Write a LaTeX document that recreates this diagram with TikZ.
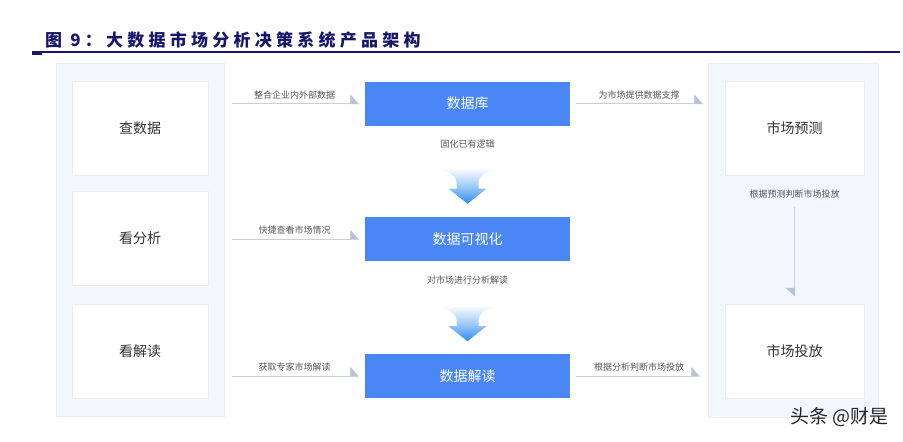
\documentclass[tikz,border=0pt]{standalone}
\usepackage{fontspec}
\setmainfont{Noto Sans CJK SC}
\usetikzlibrary{positioning,arrows.meta}
\definecolor{navy}{HTML}{16166A}
\definecolor{dblue}{HTML}{4A86F6}
\definecolor{arrblue}{HTML}{2F8CF0}
\definecolor{pane}{HTML}{F3F6FC}
\definecolor{paneline}{HTML}{E9EDF6}
\definecolor{wire}{HTML}{C9CED8}
\definecolor{tipc}{HTML}{B4C3D8}
\definecolor{notec}{HTML}{555555}
\definecolor{ink}{HTML}{333333}
\tikzset{
  panel/.style={fill=pane, draw=paneline, inner sep=0pt},
  card/.style={fill=white, draw=paneline, minimum height=94pt, inner sep=0pt, text=ink, font=\fontsize{14}{14}\selectfont},
  blk/.style={fill=dblue, minimum width=205pt, minimum height=44pt, inner sep=0pt, text=white, font=\fontsize{14}{14}\selectfont},
  note/.style={text=notec, font=\fontsize{9}{9}\selectfont, inner sep=1pt},
  link/.style={draw=wire, line width=1pt, -{Triangle[harpoon, length=8pt, width=18pt, color=tipc]}},
  flow/.pic={
    \shade[top color=white, bottom color=arrblue, middle color=arrblue!45]
      (-35,0) .. controls (-20,2) and (-11,8) .. (-11,15) -- (-11,21) -- (-19,21) -- (0,36)
      -- (19,21) -- (11,21) -- (11,15) .. controls (11,8) and (20,2) .. (35,0) -- cycle;
  }
}
\begin{document}
\begin{tikzpicture}[x=1pt,y=-1pt]
\useasboundingbox (0,0) rectangle (903,442);

\node[anchor=west, text=navy, inner sep=0pt, font=\fontsize{17}{17}\selectfont\bfseries\addfontfeature{LetterSpace=25}] (title) at (45,40) {图 9：大数据市场分析决策系统产品架构};
\draw[navy, line width=2pt] (32,52) -- (900,52);
\draw[navy, line width=3pt] (32,53) -- (42,53);

\node[panel, minimum width=168pt, minimum height=353pt] (lpanel) at (140,239.5) {};
\node[panel, minimum width=170pt, minimum height=354pt] (rpanel) at (793,240) {};

\foreach \t/\y/\n in {查数据/128/cs, 看分析/238.5/kf, 看解读/351.5/kj}
{
   \node[card, minimum width=136pt] (\n) at (140,\y) {\t};
}
\node[card, minimum width=139pt] (yc) at (794.5,128) {市场预测};
\node[card, minimum width=139pt] (tf) at (794.5,351.5) {市场投放};

\node[blk] (sjk) at (467.5,103.5) {数据库};
\node[blk] (ksh) at (467.5,239) {数据可视化};
\node[blk] (jd) at (467.5,376) {数据解读};

\node[note] (gh) [below=13pt of sjk] {固化已有逻辑};
\node[note] (fx) [below=13pt of ksh] {对市场进行分析解读};
\pic at ([yshift=-42pt]sjk.south) {flow};
\pic at ([yshift=-44pt]ksh.south) {flow};

\draw[link, shorten <=8pt, shorten >=6pt] (lpanel.east |- sjk.west) -- node[note, above=3pt] {整合企业内外部数据} (sjk.west);
\draw[link, shorten <=8pt, shorten >=6pt] (lpanel.east |- ksh.west) -- node[note, above=3pt] {快捷查看市场情况} (ksh.west);
\draw[link, shorten <=8pt, shorten >=6pt] (lpanel.east |- jd.west) -- node[note, above=3pt] {获取专家市场解读} (jd.west);

\draw[link, shorten <=6pt, shorten >=5pt] (sjk.east) -- node[note, above=3pt] {为市场提供数据支撑} (rpanel.west |- sjk.east);
\draw[link, shorten <=6pt, shorten >=8pt] (jd.east) -- node[note, above=3pt] {根据分析判断市场投放} (rpanel.west |- jd.east);

\node[note] (yl) [below=13pt of yc] {根据预测判断市场投放};
\draw[link, -{Triangle[harpoon, swap, length=8pt, width=18pt, color=tipc]}, shorten <=32pt, shorten >=8pt] (yc.south) -- (tf.north);

\node[anchor=east, inner sep=0pt, text=black!85, font=\fontsize{19}{19}\selectfont] (wm) at (889,417) {头条 @财是};
\end{tikzpicture}
\end{document}
